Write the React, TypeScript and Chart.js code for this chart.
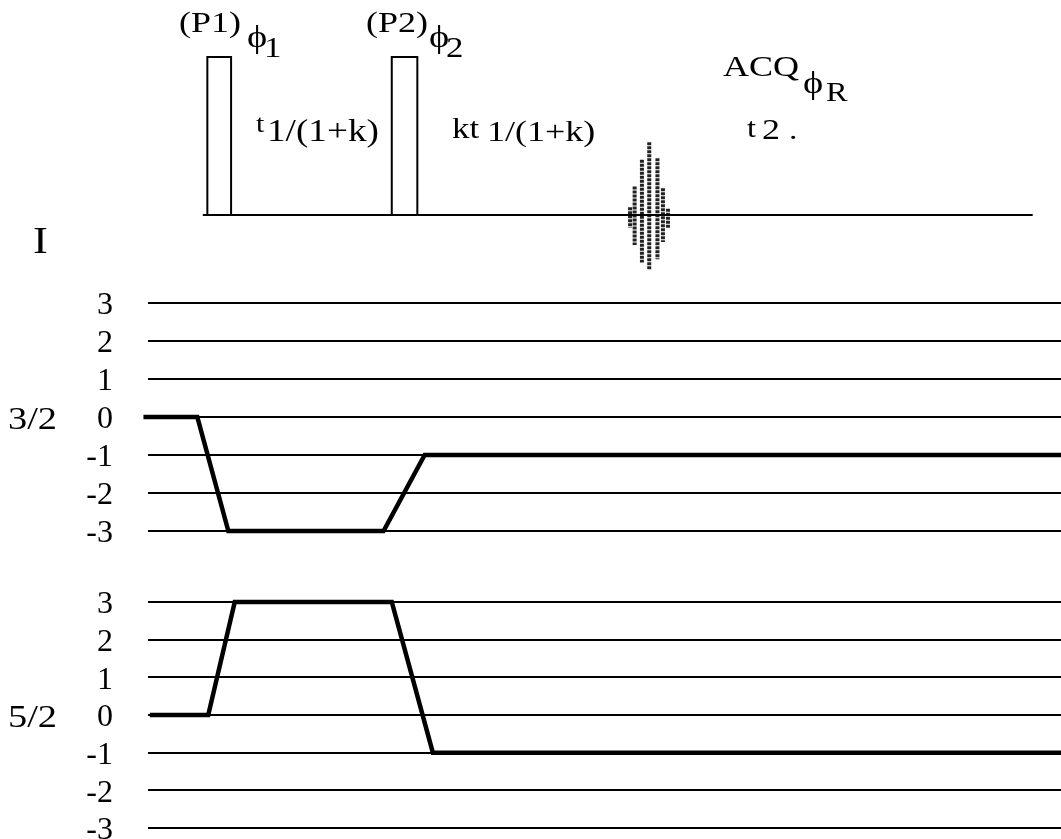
import React, { useEffect, useRef } from "react";
import { Chart, registerables } from "chart.js";

Chart.register(...registerables);

// ---- data (time in arbitrary units, amplitude / coherence order) ----
const timeMin = 0;
const timeMax = 100;

const pulseStart = [6.5, 26.7];
const pulseEnd = [9.1, 29.5];
const pulseHeight = [1, 1];
const baselineTime = [6.0, 96.9];

const fidTime = [52.8, 53.3, 54.1, 54.9, 55.8, 56.4, 56.95];
const fidTop = [0.05, 0.18, 0.35, 0.46, 0.36, 0.17, 0.04];
const fidBottom = [-0.08, -0.19, -0.3, -0.35, -0.28, -0.17, -0.08];

const coherenceMin = -3;
const coherenceMax = 3;

const path32Time = [-0.5, 5.4, 8.8, 25.8, 30.3, 100];
const path32Level = [0, 0, -3, -3, -1, -1];
const path52Time = [0.2, 6.6, 9.5, 26.7, 31.2, 100];
const path52Level = [0, 0, 3, 3, -1, -1];

const spinLabels = ["3/2", "5/2"];

// ---- styling ----
const FONT = '"Liberation Serif", "Times New Roman", serif';
const STRETCH = 1.2;
const W = 1061;
const AXIS_W = 148;

type TextItem = { text: string; x: number; y: number; size: number };

const topTexts: TextItem[] = [
  { text: "(P1)", x: 179, y: 32, size: 30 },
  { text: "\u03D5", x: 247, y: 47, size: 32 },
  { text: "1", x: 264, y: 57, size: 29 },
  { text: "(P2)", x: 366, y: 32, size: 30 },
  { text: "\u03D5", x: 429, y: 47, size: 32 },
  { text: "2", x: 446, y: 57, size: 29 },
  { text: "t", x: 256, y: 132, size: 25 },
  { text: "1/(1+k)", x: 267, y: 141, size: 31 },
  { text: "kt", x: 452, y: 138, size: 29 },
  { text: "1/(1+k)", x: 487, y: 141, size: 30 },
  { text: "ACQ", x: 723, y: 76, size: 30 },
  { text: "\u03D5", x: 803, y: 93, size: 32 },
  { text: "R", x: 826, y: 101, size: 27 },
  { text: "t", x: 747, y: 137, size: 27 },
  { text: "2", x: 762, y: 139, size: 30 },
  { text: ".", x: 789, y: 139, size: 28 },
  { text: "I", x: 33, y: 253, size: 37 },
];

function drawText(ctx: CanvasRenderingContext2D, it: TextItem) {
  ctx.save();
  ctx.font = `${it.size}px ${FONT}`;
  ctx.fillStyle = "#000";
  ctx.textBaseline = "alphabetic";
  ctx.textAlign = "left";
  ctx.translate(it.x, it.y);
  ctx.scale(STRETCH, 1);
  ctx.fillText(it.text, 0, 0);
  ctx.restore();
}

const topTextPlugin = {
  id: "topTexts",
  afterDraw(chart: any) {
    for (const it of topTexts) drawText(chart.ctx, it);
  },
};

function levelLabelPlugin(label: string) {
  return {
    id: "levelLabel",
    afterDraw(chart: any) {
      const y = chart.scales.y.getPixelForValue(0);
      drawText(chart.ctx, { text: label, x: 8, y: y + 12, size: 32 });
    },
  };
}

function pts(xs: number[], ys: number[]) {
  return xs.map((x, i) => ({ x, y: ys[i] }));
}

function buildTopConfig(): any {
  const pulses = pulseStart.map((s, i) => ({
    data: [
      { x: s, y: 0 },
      { x: s, y: pulseHeight[i] },
      { x: pulseEnd[i], y: pulseHeight[i] },
      { x: pulseEnd[i], y: 0 },
    ],
    borderColor: "#000",
    borderWidth: 2,
    pointRadius: 0,
    fill: false,
    tension: 0,
    clip: false,
  }));
  const fid: any[] = [];
  fidTime.forEach((t, i) => {
    fid.push({ x: t, y: fidTop[i] });
    fid.push({ x: t, y: fidBottom[i] });
    fid.push({ x: t, y: null });
  });
  return {
    type: "line",
    data: {
      datasets: [
        {
          data: baselineTime.map((x) => ({ x, y: 0 })),
          borderColor: "#000",
          borderWidth: 2,
          pointRadius: 0,
          clip: false,
        },
        ...pulses,
        {
          data: fid,
          borderColor: "#222",
          borderWidth: 4,
          borderDash: [3, 1],
          pointRadius: 0,
          spanGaps: false,
          clip: false,
        },
      ],
    },
    options: {
      responsive: false,
      animation: false,
      events: [],
      layout: { padding: { left: AXIS_W, right: 0, top: 0, bottom: 0 } },
      plugins: { legend: { display: false }, tooltip: { enabled: false } },
      scales: {
        x: { type: "linear", min: timeMin, max: timeMax, display: false },
        y: { type: "linear", min: -0.411, max: 1.361, display: false },
      },
    },
    plugins: [topTextPlugin],
  };
}

function buildPathConfig(xs: number[], ys: number[], label: string, padTop: number, padBottom: number): any {
  return {
    type: "line",
    data: {
      datasets: [
        {
          data: pts(xs, ys),
          borderColor: "#000",
          borderWidth: 4.5,
          borderJoinStyle: "miter",
          pointRadius: 0,
          tension: 0,
          clip: false,
        },
      ],
    },
    options: {
      responsive: false,
      animation: false,
      events: [],
      layout: { padding: { left: 0, right: 0, top: padTop, bottom: padBottom } },
      plugins: { legend: { display: false }, tooltip: { enabled: false } },
      scales: {
        x: { type: "linear", min: timeMin, max: timeMax, display: false },
        y: {
          type: "linear",
          min: coherenceMin,
          max: coherenceMax,
          afterFit: (s: any) => {
            s.width = AXIS_W;
            s.paddingTop = 0;
            s.paddingBottom = 0;
          },
          ticks: {
            stepSize: 1,
            autoSkip: false,
            padding: 35,
            labelOffset: 3,
            color: "#000",
            font: { family: FONT, size: 32, lineHeight: 1.1 },
          },
          grid: { color: "#000", lineWidth: 2, drawTicks: false },
          border: { display: false },
        },
      },
    },
    plugins: [levelLabelPlugin(label)],
  };
}

function useChart(ref: React.RefObject<HTMLCanvasElement>, build: () => any) {
  useEffect(() => {
    if (!ref.current) return;
    const chart = new Chart(ref.current, build());
    return () => chart.destroy();
  }, []);
}

export default function App() {
  const topRef = useRef<HTMLCanvasElement>(null);
  const midRef = useRef<HTMLCanvasElement>(null);
  const botRef = useRef<HTMLCanvasElement>(null);

  useChart(topRef, buildTopConfig);
  useChart(midRef, () => buildPathConfig(path32Time, path32Level, spinLabels[0], 23, 29));
  useChart(botRef, () => buildPathConfig(path52Time, path52Level, spinLabels[1], 32, 11));

  const abs = (top: number, h: number): React.CSSProperties => ({
    position: "absolute",
    left: 0,
    top,
    width: W,
    height: h,
    display: "block",
  });

  return (
    <div style={{ position: "absolute", left: 0, top: 0, width: W, height: 839, background: "#fff", overflow: "hidden" }}>
      <canvas ref={topRef} width={W} height={280} style={abs(0, 280)} />
      <canvas ref={midRef} width={W} height={280} style={abs(280, 280)} />
      <canvas ref={botRef} width={W} height={269} style={abs(570, 269)} />
    </div>
  );
}
